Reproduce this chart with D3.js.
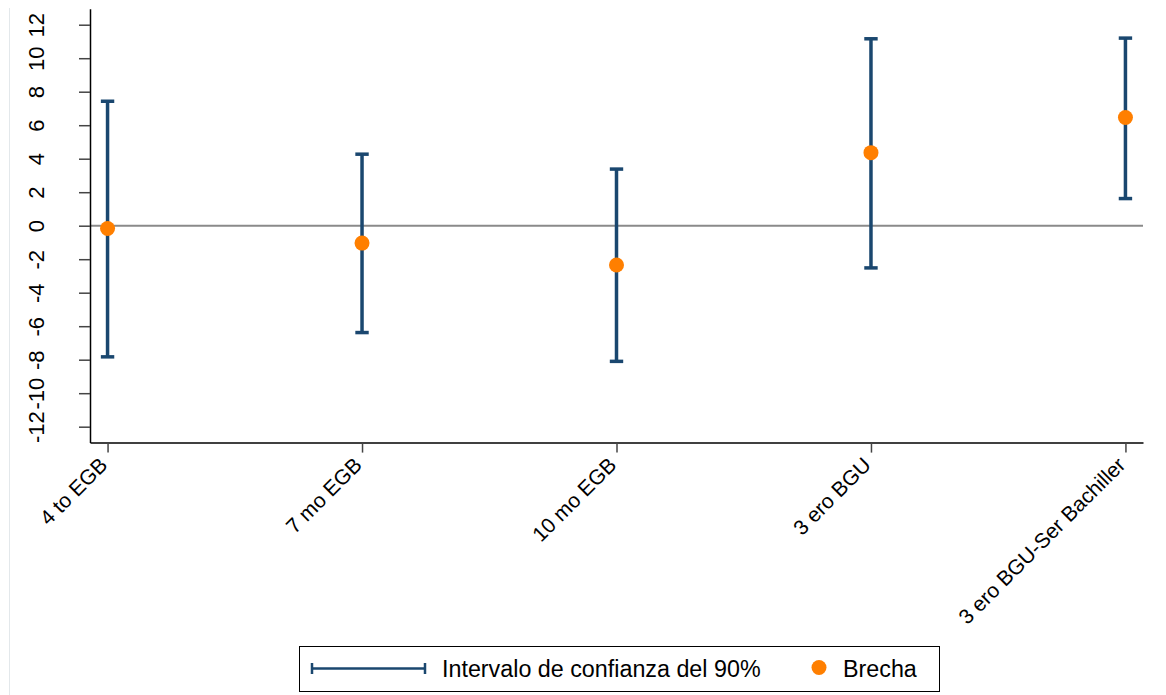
<!DOCTYPE html>
<html>
<head>
<meta charset="utf-8">
<script src="https://cdn.jsdelivr.net/npm/d3@7"></script>
<style>
  body { margin: 0; background: #fff; }
  svg { display: block; font-family: "Liberation Sans", Arial, sans-serif; }
</style>
</head>
<body>
<svg id="chart" width="1166" height="695"></svg>
<script>
const categories = ["4 to EGB", "7 mo EGB", "10 mo EGB", "3 ero BGU", "3 ero BGU-Ser Bachiller"];
const brecha = [-0.17, -1.04, -2.35, 4.36, 6.46];
const lowerCI = [-7.83, -6.38, -8.1, -2.52, 1.62];
const upperCI = [7.43, 4.27, 3.38, 11.16, 11.2];
const yTicks = [-12, -10, -8, -6, -4, -2, 0, 2, 4, 6, 8, 10, 12];
const legendLabels = ["Intervalo de confianza del 90%", "Brecha"];

const navy = "#1a476f", orange = "#ff7f00";
const svg = d3.select("#chart");

// faint outer frame line
svg.append("line").attr("x1", 9.5).attr("x2", 9.5).attr("y1", 8).attr("y2", 695)
  .attr("stroke", "#e3e8eb").attr("stroke-width", 1);

const x = d3.scalePoint().domain(categories).range([90, 1143]).padding(0.069);
const y = d3.scaleLinear().domain([-12.95, 12.95]).range([442.6, 8.8]);

// zero line
svg.append("line").attr("x1", 90).attr("x2", 1143)
  .attr("y1", y(0)).attr("y2", y(0))
  .attr("stroke", "#8a8a8a").attr("stroke-width", 2);

// y axis
const yAxis = d3.axisLeft(y).tickValues(yTicks).tickSize(11).tickSizeOuter(0).tickFormat(d => String(d));
const gy = svg.append("g").attr("transform", "translate(90,0)").call(yAxis);
gy.select(".domain").attr("stroke", "#000").attr("stroke-width", 1.5);
gy.selectAll(".tick line").attr("stroke", "#444").attr("stroke-width", 1.5);
gy.selectAll(".tick text")
  .attr("font-size", 22).attr("fill", "#000")
  .attr("text-anchor", "middle")
  .attr("x", 0).attr("dy", 0)
  .attr("transform", "translate(-46,0) rotate(-90)");

// x axis
const xAxis = d3.axisBottom(x).tickSize(10).tickSizeOuter(0);
const gx = svg.append("g").attr("transform", `translate(0,${y.range()[0]})`).call(xAxis);
gx.select(".domain").attr("stroke", "#000").attr("stroke-width", 1.5);
gx.selectAll(".tick line").attr("stroke", "#444").attr("stroke-width", 1.5);
gx.selectAll(".tick text")
  .attr("font-size", 21).attr("fill", "#000")
  .attr("text-anchor", "end")
  .attr("y", 0).attr("dy", "0.72em")
  .attr("transform", "translate(-10,13) rotate(-45)");

// error bars
const capHalf = 6.7;
const bars = svg.append("g");
categories.forEach((c, i) => {
  const cx = x(c);
  bars.append("line").attr("x1", cx).attr("x2", cx)
    .attr("y1", y(lowerCI[i])).attr("y2", y(upperCI[i]))
    .attr("stroke", navy).attr("stroke-width", 3.5);
  [lowerCI[i], upperCI[i]].forEach(v => {
    bars.append("line").attr("x1", cx - capHalf).attr("x2", cx + capHalf)
      .attr("y1", y(v)).attr("y2", y(v))
      .attr("stroke", navy).attr("stroke-width", 3.5);
  });
});

// points
svg.append("g").selectAll("circle").data(categories).join("circle")
  .attr("cx", d => x(d)).attr("cy", (d, i) => y(brecha[i]))
  .attr("r", 7.5).attr("fill", orange);

// legend
const lg = svg.append("g");
lg.append("rect").attr("x", 299.5).attr("y", 646.5).attr("width", 640).attr("height", 45)
  .attr("fill", "#fff").attr("stroke", "#000").attr("stroke-width", 1);
const ly = 668.5;
lg.append("line").attr("x1", 312).attr("x2", 425).attr("y1", ly).attr("y2", ly)
  .attr("stroke", navy).attr("stroke-width", 2.5);
[312, 425].forEach(px => lg.append("line").attr("x1", px).attr("x2", px)
  .attr("y1", ly - 5.5).attr("y2", ly + 5.5).attr("stroke", navy).attr("stroke-width", 2.5));
lg.append("text").attr("x", 442).attr("y", ly + 8).attr("font-size", 23.3).attr("fill", "#000")
  .text(legendLabels[0]);
lg.append("circle").attr("cx", 819).attr("cy", ly - 1).attr("r", 7.5).attr("fill", orange);
lg.append("text").attr("x", 843).attr("y", ly + 8).attr("font-size", 23.3).attr("fill", "#000")
  .text(legendLabels[1]);
</script>
</body>
</html>
